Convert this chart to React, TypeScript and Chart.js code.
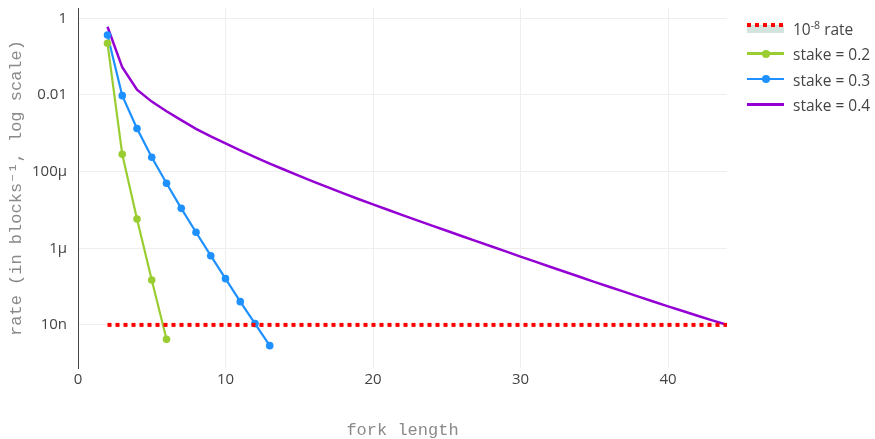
import React, { useEffect, useRef } from "react";
import { Chart, registerables } from "chart.js";

Chart.register(...registerables);

// ---- data ----
const thresholdX = [2, 44];
const thresholdRate = [1e-8, 1e-8];

const stake02X = [2, 3, 4, 5, 6];
const stake02 = [0.223, 2.83e-4, 5.8e-6, 1.49e-7, 4.2e-9];

const stake03X = [2, 3, 4, 5, 6, 7, 8, 9, 10, 11, 12, 13];
const stake03 = [
  0.367, 9.6e-3, 1.33e-3, 2.38e-4, 4.96e-5, 1.1e-5, 2.61e-6, 6.4e-7, 1.61e-7,
  4.04e-8, 1.08e-8, 2.87e-9,
];

const stake04X = [
  2, 3, 4, 5, 6, 7, 8, 9, 10, 11, 12, 13, 14, 15, 16, 17, 18, 19, 20, 21, 22,
  23, 24, 25, 26, 27, 28, 29, 30, 31, 32, 33, 34, 35, 36, 37, 38, 39, 40, 41,
  42, 43, 44,
];
const stake04 = [
  0.604, 0.0527, 0.0138, 6.71e-3, 3.77e-3, 2.2e-3, 1.31e-3, 8.3e-4, 5.42e-4,
  3.56e-4, 2.38e-4, 1.61e-4, 1.12e-4, 7.78e-5, 5.42e-5, 3.8e-5, 2.7e-5,
  1.93e-5, 1.39e-5, 1.01e-5, 7.34e-6, 5.34e-6, 3.91e-6, 2.86e-6, 2.09e-6,
  1.53e-6, 1.13e-6, 8.3e-7, 6.07e-7, 4.47e-7, 3.29e-7, 2.43e-7, 1.8e-7,
  1.33e-7, 9.88e-8, 7.36e-8, 5.48e-8, 4.09e-8, 3.05e-8, 2.3e-8, 1.73e-8,
  1.31e-8, 1e-8,
];

const xTicks = [0, 10, 20, 30, 40];
const yTicks = [1e-8, 1e-6, 1e-4, 1e-2, 1];
const yTickLabels = ["10n", "1µ", "100µ", "0.01", "1"];

const X_MIN = 0;
const X_MAX = 44;
const Y_MIN = 7.5e-10;
const Y_MAX = 1.86;

const toPoints = (xs: number[], ys: number[]) =>
  xs.map((x, i) => ({ x, y: ys[i] }));

const GREEN = "#9acd32";
const BLUE = "#1e90ff";
const PURPLE = "#9400d3";
const RED = "#ff0000";

const tickFont = { family: "'Open Sans', 'Liberation Sans', sans-serif", size: 15 };
const titleFamily = "'Liberation Mono', 'DejaVu Sans Mono', monospace";

export default function App() {
  const canvasRef = useRef<HTMLCanvasElement | null>(null);

  useEffect(() => {
    const canvas = canvasRef.current;
    if (!canvas) return;
    const chart = new Chart(canvas, {
      type: "line",
      data: {
        datasets: [
          {
            label: "10-8 rate",
            data: toPoints(thresholdX, thresholdRate),
            borderColor: RED,
            borderWidth: 4,
            borderDash: [4, 4],
            pointRadius: 0,
            fill: false,
          },
          {
            label: "stake = 0.2",
            data: toPoints(stake02X, stake02),
            borderColor: GREEN,
            backgroundColor: GREEN,
            borderWidth: 2.2,
            pointRadius: 3.8,
            pointBorderWidth: 0,
            fill: false,
          },
          {
            label: "stake = 0.3",
            data: toPoints(stake03X, stake03),
            borderColor: BLUE,
            backgroundColor: BLUE,
            borderWidth: 2.2,
            pointRadius: 3.8,
            pointBorderWidth: 0,
            fill: false,
          },
          {
            label: "stake = 0.4",
            data: toPoints(stake04X, stake04),
            borderColor: PURPLE,
            borderWidth: 2.5,
            pointRadius: 0,
            fill: false,
          },
        ],
      },
      options: {
        animation: false,
        responsive: true,
        maintainAspectRatio: false,
        layout: { padding: { top: 8, right: 148, left: 0, bottom: 0 } },
        plugins: { legend: { display: false }, tooltip: { enabled: false } },
        scales: {
          x: {
            type: "linear",
            bounds: "data",
            min: X_MIN,
            max: X_MAX,
            afterBuildTicks: (scale: any) => {
              scale.ticks = xTicks.map((v) => ({ value: v }));
            },
            afterFit: (scale: any) => {
              scale.height = 71;
              scale.paddingLeft = 0;
              scale.paddingRight = 0;
            },
            ticks: {
              font: tickFont,
              color: "#444",
              padding: 3,
              maxRotation: 0,
              autoSkip: false,
            },
            grid: { color: "#eeeeee", lineWidth: 1, drawTicks: false },
            border: { display: false },
            title: {
              display: true,
              text: "fork length",
              color: "#8a8a8a",
              font: { family: titleFamily, size: 17, lineHeight: 1 },
              padding: { top: 1, bottom: 0 },
            },
          },
          y: {
            type: "logarithmic",
            bounds: "data",
            min: Y_MIN,
            max: Y_MAX,
            afterBuildTicks: (scale: any) => {
              scale.ticks = yTicks.map((v) => ({ value: v }));
            },
            afterFit: (scale: any) => {
              scale.width = 78;
              scale.paddingTop = 0;
              scale.paddingBottom = 0;
            },
            ticks: {
              font: tickFont,
              color: "#444",
              padding: 11,
              autoSkip: false,
              callback: (_v: any, i: number) => yTickLabels[i],
            },
            grid: { color: "#eeeeee", lineWidth: 1, drawTicks: false },
            border: { display: true, color: "#444", width: 1 },
            title: {
              display: true,
              text: "rate (in blocks⁻¹, log scale)",
              color: "#8a8a8a",
              font: { family: titleFamily, size: 17, lineHeight: 1.2 },
              padding: { top: 6, bottom: 0 },
            },
          },
        },
      } as any,
    });
    return () => chart.destroy();
  }, []);

  const textStyle: React.CSSProperties = {
    position: "absolute",
    left: 793,
    height: 20,
    lineHeight: "20px",
    fontFamily: "'Open Sans', 'Liberation Sans', sans-serif",
    fontSize: 15.5,
    color: "#444",
    whiteSpace: "nowrap",
  };
  const lineStyle = (top: number, color: string, h: number): React.CSSProperties => ({
    position: "absolute",
    left: 747,
    top: top - h / 2,
    width: 37,
    height: h,
    background: color,
  });
  const dotStyle = (top: number, color: string): React.CSSProperties => ({
    position: "absolute",
    left: 765.5 - 4,
    top: top - 4,
    width: 8,
    height: 8,
    borderRadius: "50%",
    background: color,
  });

  return (
    <div
      style={{
        position: "absolute",
        left: 0,
        top: 0,
        width: 875,
        height: 439,
        background: "#fff",
        overflow: "hidden",
      }}
    >
      <canvas ref={canvasRef} />
      {/* legend */}
      <div
        style={{
          position: "absolute",
          left: 747,
          top: 25,
          width: 37,
          height: 8,
          background: "#d4e4de",
        }}
      />
      <div
        style={{
          position: "absolute",
          left: 747,
          top: 23,
          width: 37,
          height: 4,
          background:
            "repeating-linear-gradient(to right, #ff0000 0px, #ff0000 4px, transparent 4px, transparent 8px)",
        }}
      />
      <div style={{ ...textStyle, top: 28.5 - 10 }}>
        10
        <span style={{ fontSize: 10.5, position: "relative", top: -6 }}>-8</span> rate
      </div>

      <div style={lineStyle(53.5, GREEN, 2.4)} />
      <div style={dotStyle(53.5, GREEN)} />
      <div style={{ ...textStyle, top: 54 - 10 }}>stake = 0.2</div>

      <div style={lineStyle(79, BLUE, 2.4)} />
      <div style={dotStyle(79, BLUE)} />
      <div style={{ ...textStyle, top: 79.5 - 10 }}>stake = 0.3</div>

      <div style={lineStyle(104.5, PURPLE, 2.6)} />
      <div style={{ ...textStyle, top: 105 - 10 }}>stake = 0.4</div>
    </div>
  );
}
